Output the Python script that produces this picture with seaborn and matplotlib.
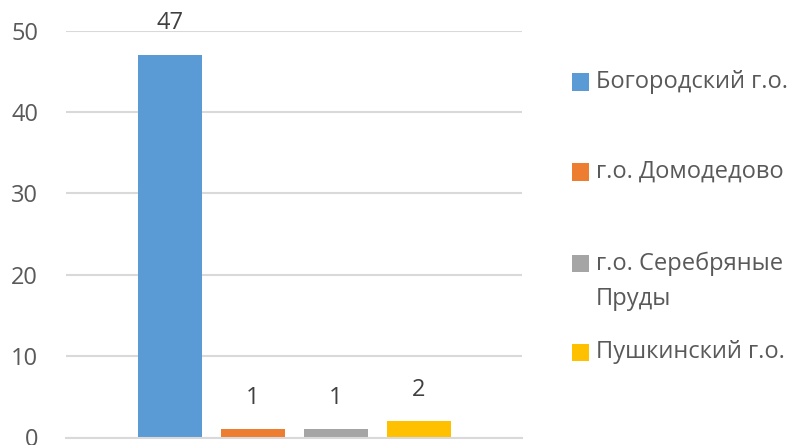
import matplotlib
matplotlib.use("Agg")
import matplotlib.pyplot as plt
import seaborn as sns
import pandas as pd
from matplotlib.patches import Rectangle

categories = ["Богородский г.о.", "г.о. Домодедово", "г.о. Серебряные Пруды", "Пушкинский г.о."]
legend_labels = ["Богородский г.о.", "г.о. Домодедово", "г.о. Серебряные\nПруды", "Пушкинский г.о."]
values = [47, 1, 1, 2]
colors = ["#5B9BD5", "#ED7D31", "#A5A5A5", "#FFC000"]
yticks = [0, 10, 20, 30, 40, 50]

sns.set_theme(style="white")
plt.rcParams["font.family"] = ["Open Sans", "DejaVu Sans"]

df = pd.DataFrame({"cat": categories, "val": values})

fig = plt.figure(figsize=(8.08, 4.45), dpi=100)
ax = fig.add_axes([66/808, 1-437.5/445, 456/808, (437.5-30.5)/445])

sns.barplot(data=df, x="cat", y="val", hue="cat", palette=colors, order=categories,
            hue_order=categories, width=0.78, dodge=False, legend=False, ax=ax,
            saturation=1, edgecolor="none")

FS = 17
ax.set_ylim(0, 50)
ax.set_xlim(-1.253, 4.24)
ax.set_yticks(yticks)
ax.set_yticklabels([str(t) for t in yticks], fontsize=FS, color="#595959")
ax.set_xticks([])
ax.set_xlabel("")
ax.set_ylabel("")
ax.tick_params(axis="y", length=0, pad=20)
ax.yaxis.grid(True, color="#D9D9D9", linewidth=1.5)
ax.set_axisbelow(True)
for s in ["top", "right", "left"]:
    ax.spines[s].set_visible(False)
ax.spines["bottom"].set_color("#D9D9D9")
ax.spines["bottom"].set_linewidth(1.5)

for container in ax.containers:
    ax.bar_label(container, fmt="%d", padding=14, fontsize=FS, color="#404040")

# legend
ys = [82, 172, 263, 352]
for lab, col, y in zip(legend_labels, colors, ys):
    fig.add_artist(Rectangle((572/808, 1-(y+8.5)/445), 17/808, 17/445,
                             transform=fig.transFigure, facecolor=col, edgecolor="none"))
    if "\n" in lab:
        fig.text(596/808, 1-(y-11)/445, lab, fontsize=FS, color="#595959",
                 va="top", ha="left", linespacing=1.6)
    else:
        fig.text(596/808, 1-y/445, lab, fontsize=FS, color="#595959",
                 va="center", ha="left")

fig.savefig("out.png", dpi=100)
